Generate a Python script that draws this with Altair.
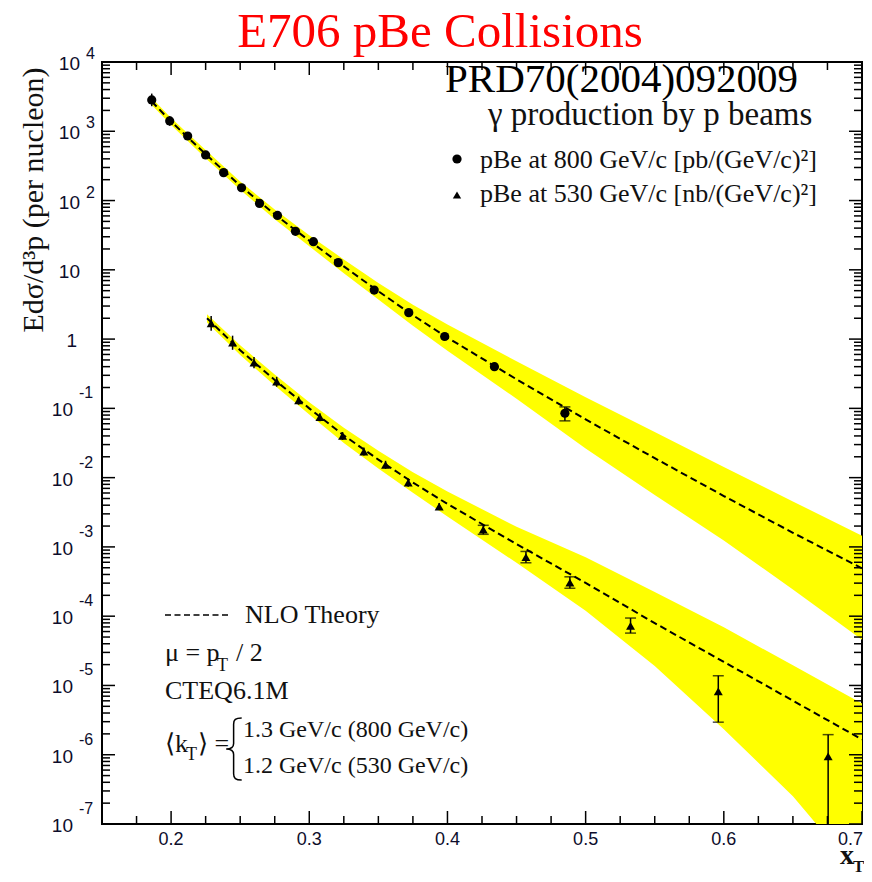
import altair as alt
import pandas as pd

# ---------------- data ----------------
# pBe at 800 GeV/c (circles)
x_800 = [0.186, 0.199, 0.212, 0.225, 0.238, 0.251, 0.264, 0.277, 0.290, 0.303,
         0.321, 0.347, 0.372, 0.398, 0.434, 0.485]
y_800 = [2830, 1410, 855, 455, 253, 153, 91, 61, 36, 25.5, 12.7, 5.1, 2.41, 1.09, 0.40, 0.085]
hi_800 = [3500, 1650, 960, 505, 280, 168, 99, 66, 39, 27.8, 13.9, 5.6, 2.65, 1.20, 0.44, 0.105]
lo_800 = [2300, 1200, 760, 410, 228, 139, 83, 56, 33, 23.3, 11.6, 4.6, 2.18, 0.98, 0.36, 0.066]
cap_800 = [False] * 15 + [True]

# pBe at 530 GeV/c (triangles)
x_530 = [0.229, 0.2445, 0.260, 0.2764, 0.2923, 0.3077, 0.3241, 0.3395, 0.3552, 0.3716,
         0.394, 0.4259, 0.4568, 0.4886, 0.5325, 0.596, 0.6755]
y_530 = [1.69, 0.89, 0.458, 0.244, 0.130, 0.0746, 0.040, 0.0238, 0.0153, 0.0085,
         0.00383, 0.00177, 0.000713, 0.000306, 7.26e-5, 8.2e-6, 9.5e-7]
hi_530 = [2.15, 1.12, 0.55, 0.285, 0.148, 0.085, 0.0455, 0.0272, 0.0175, 0.0097,
          0.0043, 0.00205, 0.00086, 0.00037, 9.4e-5, 1.38e-5, 1.95e-6]
lo_530 = [1.32, 0.70, 0.38, 0.205, 0.113, 0.065, 0.035, 0.0208, 0.0134, 0.0074,
          0.0034, 0.00152, 0.00059, 0.000253, 5.7e-5, 2.95e-6, 1e-8]
cap_530 = [False] * 11 + [True] * 6

# NLO theory (dashed) and its uncertainty band (yellow), 800 GeV/c
th800_x = [0.186, 0.20, 0.225, 0.25, 0.275, 0.30, 0.325, 0.35, 0.375, 0.40,
           0.45, 0.50, 0.55, 0.60, 0.65, 0.70]
th800_y = [2692, 1380, 468, 164, 63.1, 26.3, 11.2, 4.90, 2.21, 1.05,
           0.263, 0.0692, 0.0191, 0.00543, 0.00160, 0.000490]
band800_hi = [3020, 1549, 537, 189, 74.1, 31.6, 14.1, 6.46, 3.13, 1.62,
              0.479, 0.145, 0.0457, 0.0143, 0.00453, 0.00145]
band800_lo = [2399, 1230, 407, 143, 53.7, 21.9, 8.91, 3.72, 1.56, 0.676,
              0.138, 0.0263, 0.00562, 0.00124, 0.000243, 4.57e-5]

# NLO theory and band, 530 GeV/c
th530_x = [0.226, 0.25, 0.275, 0.30, 0.325, 0.35, 0.375, 0.40, 0.45, 0.50,
           0.55, 0.60, 0.65, 0.70]
th530_y = [2.0, 0.692, 0.257, 0.100, 0.0407, 0.0182, 0.00851, 0.00417, 0.00110,
           3.02e-4, 7.94e-5, 2.19e-5, 6.03e-6, 1.66e-6]
band530_hi = [2.29, 0.813, 0.309, 0.123, 0.0525, 0.0245, 0.0120, 0.00631, 0.00195,
              7.08e-4, 2.24e-4, 6.92e-5, 1.95e-5, 5.50e-6]
band530_lo = [1.74, 0.589, 0.214, 0.0813, 0.0316, 0.0135, 0.00603, 0.00275, 5.89e-4,
              1.20e-4, 1.91e-5, 2.34e-6, 2.51e-7, 1.66e-8]

# axis ticks / labels
xt_major = [0.2, 0.3, 0.4, 0.5, 0.6, 0.7]
xt_minor = [0.175, 0.225, 0.25, 0.275, 0.325, 0.35, 0.375, 0.425, 0.45, 0.475,
            0.525, 0.55, 0.575, 0.625, 0.65, 0.675]
xt_labels = ["0.2", "0.3", "0.4", "0.5", "0.6", "0.7"]
y_exponents = [4, 3, 2, 1, 0, -1, -2, -3, -4, -5, -6, -7]
y_minor_mult = [2, 3, 4, 5, 6, 7, 8, 9]

# ---------------- chart ----------------
W, H = 760, 762
SERIF = "Liberation Serif"
SANS = "Liberation Sans"
LABEL_COLOR = "#0d0d2b"

xs = alt.Scale(domain=[0.15, 0.7], nice=False, zero=False)
ys = alt.Scale(type="log", domain=[1e-7, 1e4], nice=False)


def X(f):
    return alt.X(f, type="quantitative", scale=xs, axis=None)


def Y(f):
    return alt.Y(f, type="quantitative", scale=ys, axis=None)


layers = []

# bands
for tx, lo, hi in [(th800_x, band800_lo, band800_hi), (th530_x, band530_lo, band530_hi)]:
    df = pd.DataFrame({"x": tx, "lo": lo, "hi": hi})
    layers.append(alt.Chart(df).mark_area(color="#ffff00", opacity=1, clip=True)
                  .encode(x=X("x"), y=Y("lo"), y2="hi"))

# theory lines
for tx, ty in [(th800_x, th800_y), (th530_x, th530_y)]:
    df = pd.DataFrame({"x": tx, "y": ty})
    layers.append(alt.Chart(df).mark_line(color="black", strokeDash=[7, 4], strokeWidth=2, clip=True)
                  .encode(x=X("x"), y=Y("y")))

# error bars, caps, points
for xx, yy, lo, hi, caps, shape, size in [
    (x_800, y_800, lo_800, hi_800, cap_800, "circle", 85),
    (x_530, y_530, lo_530, hi_530, cap_530, "triangle-up", 80),
]:
    df = pd.DataFrame({"x": xx, "y": yy, "lo": lo, "hi": hi, "cap": caps})
    layers.append(alt.Chart(df).mark_rule(color="black", strokeWidth=1.5, clip=True)
                  .encode(x=X("x"), y=Y("lo"), y2="hi"))
    capdf = pd.DataFrame({
        "x": [a for a, c in zip(xx, caps) if c] * 2,
        "y": [h for h, c in zip(hi, caps) if c] + [l for l, c in zip(lo, caps) if c],
    })
    layers.append(alt.Chart(capdf).mark_tick(color="black", orient="horizontal", size=11,
                                             thickness=1.5, clip=True)
                  .encode(x=X("x"), y=Y("y")))
    layers.append(alt.Chart(df).mark_point(shape=shape, filled=True, size=size, color="black",
                                           opacity=1, clip=True)
                  .encode(x=X("x"), y=Y("y")))

# inward ticks on all four sides
xmaj = pd.DataFrame({"v": xt_major})
xmin = pd.DataFrame({"v": xt_minor})
for df, L in [(xmaj, 13), (xmin, 8)]:
    layers.append(alt.Chart(df).mark_rule(color="black", strokeWidth=1.5)
                  .encode(x=X("v"), y=alt.value(H), y2=alt.value(H - L)))
    layers.append(alt.Chart(df).mark_rule(color="black", strokeWidth=1.5)
                  .encode(x=X("v"), y=alt.value(0), y2=alt.value(L)))
ymaj = pd.DataFrame({"v": [10.0 ** k for k in y_exponents]})
ymin = pd.DataFrame({"v": [m * 10.0 ** k for k in y_exponents if k < 4 for m in y_minor_mult]})
for df, L in [(ymaj, 13), (ymin, 8)]:
    layers.append(alt.Chart(df).mark_rule(color="black", strokeWidth=1.5)
                  .encode(y=Y("v"), x=alt.value(0), x2=alt.value(L)))
    layers.append(alt.Chart(df).mark_rule(color="black", strokeWidth=1.5)
                  .encode(y=Y("v"), x=alt.value(W), x2=alt.value(W - L)))

# x tick labels (the last one, at the right edge, is kept inside the page)
xl = pd.DataFrame({"v": xt_major[:-1], "t": xt_labels[:-1]})
layers.append(alt.Chart(xl)
              .mark_text(font=SANS, fontSize=18, color=LABEL_COLOR, baseline="middle", align="center")
              .encode(x=X("v"), y=alt.value(H + 16), text="t:N"))
layers.append(alt.Chart(pd.DataFrame({"v": xt_major[-1:], "t": xt_labels[-1:]}))
              .mark_text(font=SANS, fontSize=18, color=LABEL_COLOR, baseline="middle", align="right",
                         dx=1)
              .encode(x=X("v"), y=alt.value(H + 16), text="t:N"))

# y tick labels: "10" with raised exponent
pos = [k for k in y_exponents if k >= 2]
neg = [k for k in y_exponents if k < 0]
groups = [
    (pd.DataFrame({"v": [10.0 ** k for k in pos], "b": ["10"] * len(pos), "e": [str(k) for k in pos]}), -22, -16, -8),
    (pd.DataFrame({"v": [10.0], "b": ["10"], "e": [""]}), -22, -16, -8),
    (pd.DataFrame({"v": [1.0], "b": ["1"], "e": [""]}), -25, -16, -8),
    (pd.DataFrame({"v": [10.0 ** k for k in neg], "b": ["10"] * len(neg), "e": [str(k) for k in neg]}), -29, -23, -15),
]
for df, bx, ex, edy in groups:
    layers.append(alt.Chart(df).mark_text(font=SANS, fontSize=19, color=LABEL_COLOR, align="right",
                                          baseline="middle", dy=2)
                  .encode(y=Y("v"), x=alt.value(bx), text="b:N"))
    layers.append(alt.Chart(df).mark_text(font=SANS, fontSize=16, color=LABEL_COLOR, align="left",
                                          baseline="middle", dy=edy)
                  .encode(y=Y("v"), x=alt.value(ex), text="e:N"))


def txt(s, x, y, size, font=SERIF, color="#111111", align="left", baseline="alphabetic",
        angle=0, weight="normal"):
    return (alt.Chart(pd.DataFrame({"t": [s]}))
            .mark_text(font=font, fontSize=size, color=color, align=align, baseline=baseline,
                       angle=angle, fontWeight=weight)
            .encode(text="t:N", x=alt.value(x), y=alt.value(y)))


def point(x, y, **kw):
    return (alt.Chart(pd.DataFrame({"a": [0]})).mark_point(opacity=1, **kw)
            .encode(x=alt.value(x), y=alt.value(y)))


# title & annotations
layers.append(txt("E706 pBe Collisions", 338, -15, 49, color="#ff0000", align="center"))
layers.append(txt("PRD70(2004)092009", 343, 30, 41, color="#000000"))
layers.append(txt("\u03b3 production by p beams", 386, 63, 33))
layers.append(point(355, 97, shape="circle", filled=True, size=85, color="black"))
layers.append(txt("pBe at 800 GeV/c [pb/(GeV/c)\u00b2]", 378, 106, 26))
layers.append(point(355, 133, shape="triangle-up", filled=True, size=70, color="black"))
layers.append(txt("pBe at 530 GeV/c [nb/(GeV/c)\u00b2]", 378, 140, 26))

layers.append(alt.Chart(pd.DataFrame({"a": [0]})).mark_rule(color="black", strokeWidth=1.5, strokeDash=[6, 3.5])
              .encode(x=alt.value(63), x2=alt.value(129), y=alt.value(553)))
layers.append(txt("NLO Theory", 143, 561, 26))
layers.append(txt("\u03bc = p", 63, 599, 26))
layers.append(txt("T", 115, 609, 18))
layers.append(txt("/ 2", 134, 599, 26))
layers.append(txt("CTEQ6.1M", 63, 637, 26))
layers.append(txt("\u27e8k", 63, 690, 26))
layers.append(txt("T", 84, 698, 18))
layers.append(txt("\u27e9 =", 96, 690, 26))
brace = ("M0.28,-1 C0.08,-1 0.02,-0.95 0.02,-0.8 L0.02,-0.18 C0.02,-0.06 -0.06,0 -0.22,0 "
         "C-0.06,0 0.02,0.06 0.02,0.18 L0.02,0.8 C0.02,0.95 0.08,1 0.28,1")
layers.append(point(131, 687, shape=brace, filled=False, size=62 * 62, color="black", strokeWidth=1.5))
layers.append(txt("1.3 GeV/c (800 GeV/c)", 141, 675, 24))
layers.append(txt("1.2 GeV/c (530 GeV/c)", 141, 711, 24))

# axis titles
layers.append(txt("Ed\u03c3/d\u00b3p (per nucleon)", -68, 138, 30, align="center", baseline="middle", angle=270))
layers.append(txt("x", 738, 802, 28, weight="bold"))
layers.append(txt("T", 751, 810, 17, weight="bold"))

chart = (alt.layer(*layers)
         .properties(width=W, height=H,
                     padding={"left": 94, "top": 54, "right": 2, "bottom": 50},
                     autosize=alt.AutoSizeParams(type="none"))
         .configure_view(stroke="black", strokeWidth=2))

chart.save("out.html", embed_options={"renderer": "svg", "actions": False})
